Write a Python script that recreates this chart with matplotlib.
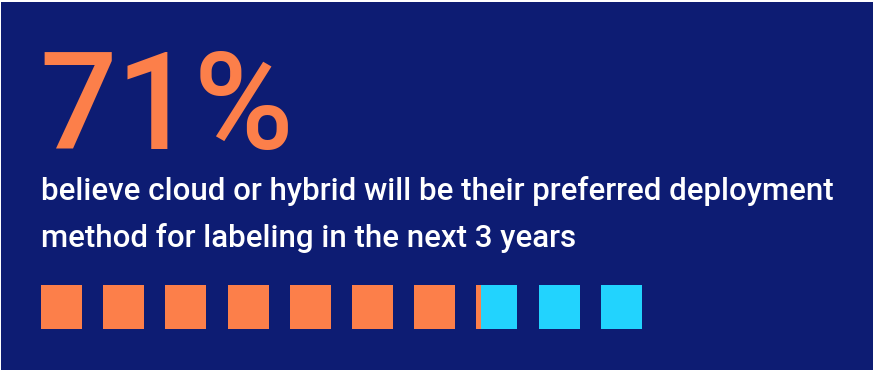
import matplotlib
matplotlib.use("Agg")
import matplotlib.pyplot as plt
from matplotlib.patches import Rectangle

# Data
percent = 71
n_squares = 10
headline = f"{percent}%"
caption_lines = [
    "believe cloud or hybrid will be their preferred deployment",
    "method for labeling in the next 3 years",
]

NAVY = "#0d1c73"
ORANGE = "#fc7f4a"
CYAN = "#22d3fe"

W, H = 874, 370
fig = plt.figure(figsize=(W / 100, H / 100), dpi=100)
fig.patch.set_facecolor("white")
ax = fig.add_axes([0, 0, 1, 1])
ax.set_xlim(0, W)
ax.set_ylim(H, 0)
ax.axis("off")

ax.add_patch(Rectangle((1, 2), 872, 368, facecolor=NAVY, edgecolor="none", zorder=0))

ax.text(39, 149, headline, color=ORANGE, fontsize=98, fontweight="medium",
        family=["Roboto", "DejaVu Sans"], ha="left", va="baseline")

for i, line in enumerate(caption_lines):
    ax.text(41, 200 + 47 * i, line, color="white", fontsize=22.5, fontweight="medium",
            family=["Roboto", "DejaVu Sans"], ha="left", va="baseline")

# Waffle squares
x0, step, size = 41, 62.2, 41
top, height = 285, 44
units = percent / 100 * n_squares
xs = [x0 + step * i for i in range(n_squares)]
fills = [min(max(units - i, 0), 1) for i in range(n_squares)]
ax.bar(xs, [height] * n_squares, width=size, bottom=top, align="edge",
       color=CYAN, zorder=2)
ax.bar(xs, [height] * n_squares, width=[size * f for f in fills], bottom=top,
       align="edge", color=ORANGE, zorder=3)

fig.savefig("out.png", dpi=100, facecolor="white")
